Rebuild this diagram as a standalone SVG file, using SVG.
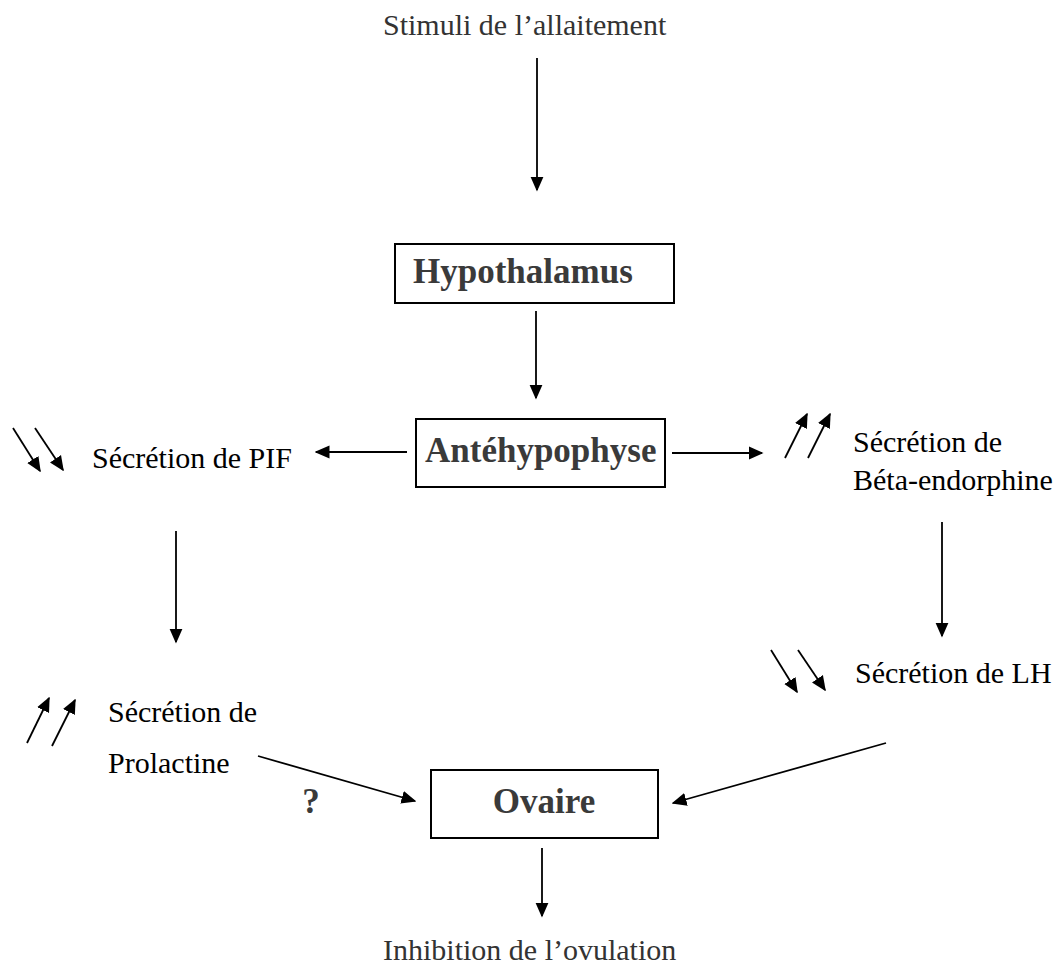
<svg xmlns="http://www.w3.org/2000/svg" width="1060" height="966" viewBox="0 0 1060 966">
  <style>
    .txt { font-family: "Liberation Serif", "Times New Roman", serif; font-size: 30px; fill: #000; }
    .soft { fill: #333; }
    .title { font-family: "Liberation Serif", "Times New Roman", serif; font-size: 35px; font-weight: bold; fill: #3a3a3a; }
    .box { fill: #fff; stroke: #000; stroke-width: 2; }
    .link { stroke: #000; stroke-width: 1.8; fill: none; marker-end: url(#head); }
  </style>
  <defs>
    <!-- solid triangular arrowhead shared by every connector -->
    <marker id="head" viewBox="0 0 10 10" refX="9" refY="5" markerWidth="15" markerHeight="15" markerUnits="userSpaceOnUse" orient="auto">
      <path d="M0,0.6 L10,5 L0,9.4 z" fill="#000"/>
    </marker>
  </defs>

  <g id="stimuli"><text class="txt soft" x="383" y="35">Stimuli de l’allaitement</text></g>

  <g id="hypothalamus">
    <rect class="box" x="395" y="244" width="279" height="59"/>
    <text class="title" x="413" y="283">Hypothalamus</text>
  </g>

  <g id="antehypophyse">
    <rect class="box" x="416" y="419" width="249" height="68"/>
    <text class="title" x="425" y="462">Antéhypophyse</text>
  </g>

  <g id="pif">
    <text class="txt" x="92" y="468">Sécrétion de PIF</text>
  </g>

  <g id="beta">
    <text class="txt" x="853" y="452">Sécrétion de</text>
    <text class="txt" x="853" y="490">Béta-endorphine</text>
  </g>

  <g id="lh">
    <text class="txt" x="855" y="683">Sécrétion de LH</text>
  </g>

  <g id="prolactine">
    <text class="txt" x="108" y="722">Sécrétion de</text>
    <text class="txt" x="108" y="773">Prolactine</text>
  </g>

  <g id="ovaire">
    <rect class="box" x="431" y="770" width="227" height="68"/>
    <text class="title" x="544" y="813" text-anchor="middle">Ovaire</text>
  </g>

  <g id="inhibition"><text class="txt soft" x="383" y="960">Inhibition de l’ovulation</text></g>

  <g id="question"><text class="title" x="311" y="813" text-anchor="middle" font-size="28">?</text></g>

  <g id="connectors">
    <line class="link" x1="537" y1="58" x2="537" y2="190"/>
    <line class="link" x1="536" y1="311" x2="536" y2="398"/>
    <line class="link" x1="407" y1="452" x2="316" y2="452"/>
    <line class="link" x1="672" y1="453" x2="762" y2="453"/>
    <line class="link" x1="176" y1="531" x2="176" y2="642"/>
    <line class="link" x1="942" y1="522" x2="942" y2="636"/>
    <line class="link" x1="258" y1="756" x2="415" y2="801"/>
    <line class="link" x1="886" y1="743" x2="673" y2="803"/>
    <line class="link" x1="542" y1="848" x2="542" y2="916"/>

    <!-- paired trend arrows: down = decrease, up = increase -->
    <line class="link" x1="13" y1="428" x2="40" y2="471"/>
    <line class="link" x1="35" y1="428" x2="63" y2="470"/>
    <line class="link" x1="785" y1="458" x2="807" y2="414"/>
    <line class="link" x1="808" y1="458" x2="830" y2="414"/>
    <line class="link" x1="771" y1="650" x2="797" y2="692"/>
    <line class="link" x1="798" y1="650" x2="825" y2="690"/>
    <line class="link" x1="27" y1="743" x2="49" y2="698"/>
    <line class="link" x1="52" y1="746" x2="75" y2="700"/>
  </g>
</svg>
